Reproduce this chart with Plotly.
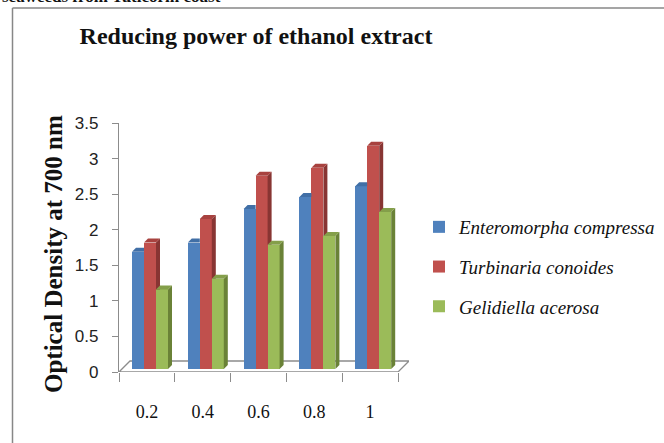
import plotly.graph_objects as go

# ---- data ----
doses = ["0.2", "0.4", "0.6", "0.8", "1"]
series_names = ["Enteromorpha compressa", "Turbinaria conoides", "Gelidiella acerosa"]
enteromorpha = [1.69, 1.82, 2.29, 2.46, 2.61]
turbinaria = [1.82, 2.15, 2.76, 2.87, 3.18]
gelidiella = [1.16, 1.31, 1.79, 1.91, 2.25]
y_ticks = [0, 0.5, 1, 1.5, 2, 2.5, 3, 3.5]
y_tick_text = ["0", "0.5", "1", "1.5", "2", "2.5", "3", "3.5"]

series_values = [enteromorpha, turbinaria, gelidiella]
front_colors = ["#4F81BD", "#C0504D", "#9BBB59"]
top_colors = ["#416FA6", "#A8423F", "#849F4A"]
side_colors = ["#335887", "#883533", "#6A8237"]

# ---- geometry (styling, in axis units) ----
W, H = 664, 443
L, R, T, B = 119, 255, 123, 71
pw, ph = W - L - R, H - T - B
x_min, x_max = -0.5, 4.5 + 11 / 55.8
y_min, y_max = 0, 3.5
ux = pw / (x_max - x_min)
uy = ph / (y_max - y_min)

bar_w = 12 / ux
lead = 13 / ux
ddx = 4 / ux
ddy = 4 / uy
base = 3 / uy
floor_dx = 11 / ux
floor_dy = 11 / uy


def clip(poly, a, b, c):
    """keep part where a*x+b*y+c >= 0"""
    out = []
    n = len(poly)
    for k in range(n):
        p, q = poly[k], poly[(k + 1) % n]
        fp = a * p[0] + b * p[1] + c
        fq = a * q[0] + b * q[1] + c
        if fp >= 0:
            out.append(p)
        if (fp >= 0) != (fq >= 0):
            t = fp / (fp - fq)
            out.append((p[0] + t * (q[0] - p[0]), p[1] + t * (q[1] - p[1])))
    return out


def area(poly):
    s = 0
    for k in range(len(poly)):
        x1, y1 = poly[k]
        x2, y2 = poly[(k + 1) % len(poly)]
        s += x1 * y2 - x2 * y1
    return abs(s) / 2


def pieces(poly, xr, vnext):
    if vnext is None:
        return [poly]
    res = []
    for pc in (clip(poly, -1, 0, xr), clip(poly, 0, 1, -vnext)):
        if len(pc) >= 3 and area(pc) > 1e-6:
            res.append(pc)
    return res


def px2paper_x(px):
    return (px - L) / pw


def px2paper_y(py):
    return (H - B - py) / ph


fig = go.Figure()

for s, (name, vals) in enumerate(zip(series_names, series_values)):
    xs = [i - 0.5 + lead + s * bar_w + bar_w / 2 for i in range(len(doses))]
    fig.add_trace(go.Bar(
        x=xs, y=[v - base for v in vals], base=base, width=bar_w,
        name=f"<i>{name}</i>", marker=dict(color=front_colors[s], line=dict(width=0)),
        legendgroup=name, hoverinfo="skip",
    ))

for s, vals in enumerate(series_values):
    side_x, side_y, top_x, top_y = [], [], [], []
    for i, v in enumerate(vals):
        xl = i - 0.5 + lead + s * bar_w
        xr = xl + bar_w
        vnext = series_values[s + 1][i] if s + 1 < len(series_values) else None
        side = [(xr, base), (xr + ddx, base + ddy), (xr + ddx, v + ddy), (xr, v)]
        top = [(xl, v), (xl + ddx, v + ddy), (xr + ddx, v + ddy), (xr, v)]
        for pc in pieces(side, xr, vnext):
            side_x += [p[0] for p in pc] + [pc[0][0], None]
            side_y += [p[1] for p in pc] + [pc[0][1], None]
        for pc in pieces(top, xr, vnext):
            top_x += [p[0] for p in pc] + [pc[0][0], None]
            top_y += [p[1] for p in pc] + [pc[0][1], None]
    fig.add_trace(go.Scatter(x=side_x, y=side_y, mode="lines", fill="toself",
                             fillcolor=side_colors[s], line=dict(width=0, color=side_colors[s]),
                             showlegend=False, hoverinfo="skip"))
    fig.add_trace(go.Scatter(x=top_x, y=top_y, mode="lines", fill="toself",
                             fillcolor=top_colors[s], line=dict(width=0, color=top_colors[s]),
                             showlegend=False, hoverinfo="skip"))

axis_gray = "#8C8C8C"
floor_path = (f"M {-0.5},{0} L {4.5},{0} L {4.5 + floor_dx},{floor_dy} "
              f"L {-0.5 + floor_dx},{floor_dy} Z")
shapes = [
    dict(type="path", xref="x", yref="y", path=floor_path, layer="below",
         line=dict(color=axis_gray, width=1.3)),
    dict(type="line", xref="paper", yref="paper",
         x0=px2paper_x(12.5), x1=px2paper_x(12.5), y0=px2paper_y(8), y1=px2paper_y(450),
         line=dict(color="#878787", width=1.5)),
    dict(type="line", xref="paper", yref="paper",
         x0=px2paper_x(12.5), x1=px2paper_x(670), y0=px2paper_y(8), y1=px2paper_y(8),
         line=dict(color="#878787", width=1.5)),
]

annotations = [
    dict(text="<b>Optical Density at 700 nm</b>", textangle=-90,
         x=px2paper_x(53), y=px2paper_y(254), xref="paper", yref="paper",
         xanchor="center", yanchor="middle",
         showarrow=False, font=dict(family="Liberation Serif", size=25, color="#111111")),
    dict(text="<b>seaweeds from Tuticorin coast</b>",
         x=px2paper_x(0), y=px2paper_y(-4), xref="paper", yref="paper",
         xanchor="left", yanchor="middle", showarrow=False,
         font=dict(family="Liberation Serif", size=17, color="#111111")),
]

fig.update_layout(
    width=W, height=H,
    margin=dict(l=L, r=R, t=T, b=B, pad=0, autoexpand=False),
    paper_bgcolor="white", plot_bgcolor="white",
    barmode="overlay", bargap=0,
    title=dict(text="<b>Reducing power of ethanol extract</b>",
               x=256 / W, xanchor="center", xref="container",
               y=1 - 36 / H, yanchor="middle", yref="container",
               font=dict(family="Liberation Serif", size=24, color="#111111")),
    xaxis=dict(range=[x_min, x_max], showgrid=False, zeroline=False, showline=False,
               automargin=False,
               tickvals=list(range(len(doses))), ticktext=doses, ticks="",
               ticklabelstandoff=27,
               tickfont=dict(family="Liberation Serif", size=18, color="#111111"),
               minor=dict(tickvals=[i - 0.5 for i in range(len(doses) + 1)],
                          ticks="outside", ticklen=9, tickcolor=axis_gray, tickwidth=1.3)),
    yaxis=dict(range=[y_min, y_max], showgrid=False, zeroline=False, showline=True,
               automargin=False,
               linecolor=axis_gray, linewidth=1.3,
               tickvals=y_ticks, ticktext=y_tick_text, ticks="outside", ticklen=6,
               tickcolor=axis_gray, tickwidth=1.3, ticklabelstandoff=10,
               tickfont=dict(family="Liberation Sans", size=17, color="#222222")),
    legend=dict(x=419 / W, y=1 - 208 / H, xref="container", yref="container",
                xanchor="left", yanchor="top",
                font=dict(family="Liberation Serif", size=19, color="#111111"),
                tracegroupgap=12, bgcolor="rgba(0,0,0,0)"),
    shapes=shapes,
    annotations=annotations,
    showlegend=True,
)

fig.write_html("out.html", config={"displayModeBar": False},
               post_script="document.body.style.margin='0px';")
